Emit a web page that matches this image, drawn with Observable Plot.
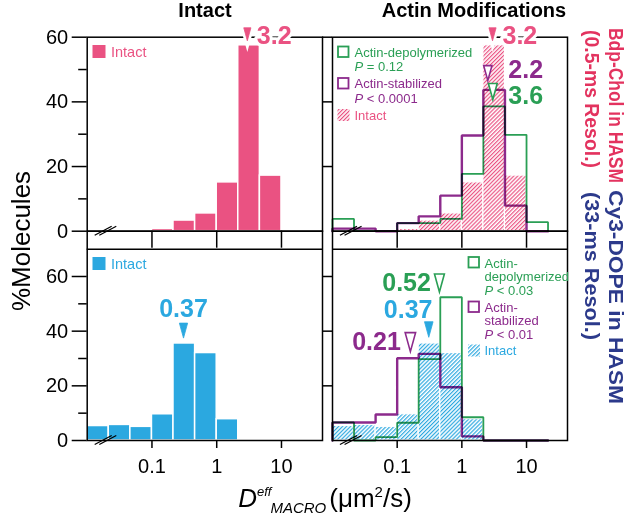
<!DOCTYPE html>
<html><head><meta charset="utf-8">
<script src="https://cdn.jsdelivr.net/npm/d3@7"></script>
<script src="https://cdn.jsdelivr.net/npm/@observablehq/plot@0.6"></script>
<style>
html,body{margin:0;padding:0;background:#fff;}
#wrap{position:relative;width:633px;height:517px;overflow:hidden;background:#fff;font-family:"Liberation Sans",Arial,sans-serif;}
#wrap svg{position:absolute;left:0;top:0;}
</style></head><body><div id="wrap"></div>
<script>
// ---------- data ----------
const binEdges = [0.01, 0.0215, 0.0464, 0.1, 0.215, 0.464, 1, 2.15, 4.64, 10, 21.5];
// Bdp-Chol in HASM (0.5-ms) : % molecules per bin
const bdpIntact = [0, 0, 0, 0.7, 3.3, 5.5, 15.1, 57.5, 17.2, 0];
const bdpDepoly = [3.8, 0, 0, 2.5, 2.5, 3.8, 17.7, 38.6, 29.8, 2.8];
const bdpStab   = [0.8, 0.8, 0, 2.5, 4.6, 11.0, 29.6, 43.7, 7.9, 0];
// Cy3-DOPE in HASM (33-ms)
const dopeIntact = [5.3, 5.7, 5.0, 9.6, 35.5, 32.0, 7.8, 0, 0, 0];
const dopeDepoly = [6.6, 0, 1.2, 6.5, 29.8, 52.4, 8.5, 0, 0, 0];
const dopeStab   = [6.6, 6.6, 9.5, 30.1, 31.7, 19.5, 1.5, 0, 0, 0];

const yTicksMajor = [0, 20, 40, 60];
const yTicksMinor = [10, 30, 50];
const yTicksRight = [20, 40, 60];
const xTicks = [0.1, 1, 10];
const xTickLabels = ["0.1", "1", "10"];
const axisBreakAt = 0.0195;

const PINK = "#EA5282", BLUE = "#2BA8E0", PURPLE = "#8C2A8C", GREEN = "#2A9F55";
const CRIMSON = "#E3335F", NAVY = "#2C3A8B";
const FONT = '"Liberation Sans", Arial, sans-serif';

// median annotations
const bdpIntactMarks = [
  {pos: 2.97, y: 60.9, label: "3.2", ly: 60.5, dx: 9.5, anchor: "start", color: PINK, open: false, r: 6.5, halo: true}];
const bdpActinMarks = [
  {pos: 2.98, y: 60.9, label: "3.2", ly: 60.5, dx: 10, anchor: "start", color: PINK, open: false, r: 6.5, halo: true},
  {pos: 2.52, y: 48.9, label: "2.2", ly: 49.9, dx: 20.5, anchor: "start", color: PURPLE, open: true, r: 7.5},
  {pos: 3.01, y: 43.2, label: "3.6", ly: 41.8, dx: 15.5, anchor: "start", color: GREEN, open: true, r: 8}];
const dopeIntactMarks = [
  {pos: 0.307, y: 40.2, label: "0.37", ly: 48.0, dx: 0, anchor: "middle", color: BLUE, open: false, r: 7.5}];
const dopeActinMarks = [
  {pos: 0.45, y: 57.6, label: "0.52", ly: 57.8, dx: -8.5, anchor: "end", color: GREEN, open: true, r: 9},
  {pos: 0.308, y: 40.6, label: "0.37", ly: 47.9, dx: 3.7, anchor: "end", color: BLUE, open: false, r: 7.8},
  {pos: 0.16, y: 36.0, label: "0.21", ly: 36.0, dx: -9.5, anchor: "end", color: PURPLE, open: true, r: 9.5}];

// ---------- helpers ----------
const rows = vals => vals.map((v, i) => ({lo: binEdges[i], hi: binEdges[i + 1], v})).filter(d => d.v > 0);
function stepPts(vals) {
  const pts = [{x: binEdges[0], y: 0}];
  vals.forEach((v, i) => pts.push({x: binEdges[i], y: v}));
  pts.push({x: binEdges[vals.length], y: 0});
  return pts;
}
const narrowTri = {
  draw(ctx, size) {
    const r = Math.sqrt(size / Math.PI), w = r * 0.55;
    ctx.moveTo(-w, -r); ctx.lineTo(w, -r); ctx.lineTo(0, r); ctx.closePath();
  }
};
function axisBreak(xv) {
  return (index, scales) => {
    const g = d3.create("svg:g").attr("stroke", "black").attr("stroke-width", 1.3);
    const cx = scales.x(xv), cy = scales.y(0);
    for (const o of [-2.3, 2.3])
      g.append("line").attr("x1", cx + o - 8.5).attr("y1", cy + 4.5).attr("x2", cx + o + 8.5).attr("y2", cy - 4.5);
    return g.node();
  };
}
function annoMarks(list) {
  const out = [];
  for (const a of list) {
    if (a.halo) out.push(Plot.dot([a], {x: "pos", y: "y", symbol: narrowTri, r: a.r, fill: "white", stroke: "white", strokeWidth: 6}));
    out.push(Plot.dot([a], {x: "pos", y: "y", symbol: narrowTri, r: a.r,
      fill: a.open ? "white" : a.color, stroke: a.color, strokeWidth: a.open ? 1.6 : 0.8}));
    out.push(Plot.text([a], {x: "pos", y: "ly", text: "label", dx: a.dx, textAnchor: a.anchor,
      fill: a.color, fontSize: 25, fontWeight: "bold", lineAnchor: "middle",
      stroke: a.halo ? "white" : null, strokeWidth: a.halo ? 6 : null}));
  }
  return out;
}
const XDOM = [0.01, 43];
function base(opts) {
  return Object.assign({
    width: 633, height: 517,
    style: {background: "transparent", overflow: "visible", fontFamily: FONT},
    x: {type: "log", domain: XDOM},
  }, opts);
}

// ---------- pattern defs ----------
const wrap = document.getElementById("wrap");
const defs = d3.create("svg").attr("width", 0).attr("height", 0);
const dd = defs.append("defs");
for (const [id, col] of [["hatchPink", PINK], ["hatchBlue", BLUE]]) {
  dd.append("pattern").attr("id", id).attr("patternUnits", "userSpaceOnUse")
    .attr("width", 2.8).attr("height", 10).attr("patternTransform", "rotate(45)")
    .append("rect").attr("width", 1.2).attr("height", 10).attr("fill", col);
}
wrap.appendChild(defs.node());

// ---------- top-left: Bdp-Chol intact ----------
const tl = Plot.plot(base({
  marginLeft: 86.7, marginRight: 311, marginTop: 36.7, marginBottom: 286.3,
  y: {domain: [0, 60]},
  marks: [
    Plot.rectY(rows(bdpIntact), {x1: "lo", x2: "hi", y: "v", fill: PINK, stroke: "white", strokeWidth: 1.5}),
    Plot.frame({stroke: "black", strokeWidth: 1.5}),
    Plot.axisY({ticks: yTicksMajor, tickSize: 15, tickPadding: 4, fontSize: 20, strokeWidth: 1.5, label: null}),
    Plot.axisY({ticks: yTicksMinor, tickSize: 8.5, tickFormat: () => "", strokeWidth: 1.5, label: null}),
    Plot.axisX({ticks: xTicks, tickSize: 17, tickFormat: () => "", strokeWidth: 1.5, label: null}),
    axisBreak(axisBreakAt),
    ...annoMarks(bdpIntactMarks)
  ]
}));

// ---------- top-right: Bdp-Chol actin modifications ----------
const tr = Plot.plot(base({
  marginLeft: 332, marginRight: 66, marginTop: 36.7, marginBottom: 286.3,
  y: {domain: [0, 60]},
  marks: [
    Plot.rectY(rows(bdpIntact), {x1: "lo", x2: "hi", y: "v", fill: "url(#hatchPink)", stroke: "white", strokeWidth: 1.2}),
    Plot.line(stepPts(bdpStab), {x: "x", y: "y", curve: "step-after", stroke: PURPLE, strokeWidth: 2.4, strokeLinejoin: "miter", mixBlendMode: "multiply"}),
    Plot.line(stepPts(bdpDepoly), {x: "x", y: "y", curve: "step-after", stroke: GREEN, strokeWidth: 1.8, strokeLinejoin: "miter", mixBlendMode: "multiply"}),
    Plot.frame({stroke: "black", strokeWidth: 1.5}),
    Plot.axisY({ticks: yTicksRight, tickSize: 10, tickFormat: () => "", strokeWidth: 1.5, label: null}),
    Plot.axisX({ticks: xTicks, tickSize: 17, tickFormat: () => "", strokeWidth: 1.5, label: null}),
    axisBreak(axisBreakAt),
    ...annoMarks(bdpActinMarks)
  ]
}));

// ---------- bottom-left: Cy3-DOPE intact ----------
const bl = Plot.plot(base({
  marginLeft: 86.7, marginRight: 311, marginTop: 230.7, marginBottom: 77,
  y: {domain: [0, 76.57]},
  marks: [
    Plot.rectY(rows(dopeIntact), {x1: "lo", x2: "hi", y: "v", fill: BLUE, stroke: "white", strokeWidth: 1.5}),
    Plot.frame({stroke: "black", strokeWidth: 1.5}),
    Plot.ruleY([70], {stroke: "black", strokeWidth: 1.5}),
    Plot.axisY({ticks: yTicksMajor, tickSize: 15, tickPadding: 4, fontSize: 20, strokeWidth: 1.5, label: null}),
    Plot.axisY({ticks: yTicksMinor, tickSize: 8.5, tickFormat: () => "", strokeWidth: 1.5, label: null}),
    Plot.axisX({ticks: xTicks, tickSize: 8, tickPadding: 10, fontSize: 20, strokeWidth: 1.5, label: null,
      tickFormat: d => xTickLabels[xTicks.indexOf(d)]}),
    axisBreak(axisBreakAt),
    ...annoMarks(dopeIntactMarks)
  ]
}));

// ---------- bottom-right: Cy3-DOPE actin modifications ----------
const br = Plot.plot(base({
  marginLeft: 332, marginRight: 66, marginTop: 230.7, marginBottom: 77,
  y: {domain: [0, 76.57]},
  marks: [
    Plot.rectY(rows(dopeIntact), {x1: "lo", x2: "hi", y: "v", fill: "url(#hatchBlue)", stroke: "white", strokeWidth: 1.2}),
    Plot.line(stepPts(dopeStab), {x: "x", y: "y", curve: "step-after", stroke: PURPLE, strokeWidth: 2.4, strokeLinejoin: "miter", mixBlendMode: "multiply"}),
    Plot.line(stepPts(dopeDepoly), {x: "x", y: "y", curve: "step-after", stroke: GREEN, strokeWidth: 1.8, strokeLinejoin: "miter", mixBlendMode: "multiply"}),
    Plot.frame({stroke: "black", strokeWidth: 1.5}),
    Plot.ruleY([70], {stroke: "black", strokeWidth: 1.5}),
    Plot.axisY({ticks: yTicksRight, tickSize: 10, tickFormat: () => "", strokeWidth: 1.5, label: null}),
    Plot.axisX({ticks: xTicks, tickSize: 8, tickPadding: 10, fontSize: 20, strokeWidth: 1.5, label: null,
      tickFormat: d => xTickLabels[xTicks.indexOf(d)]}),
    axisBreak(axisBreakAt),
    ...annoMarks(dopeActinMarks)
  ]
}));

[tl, tr, bl, br].forEach(p => wrap.appendChild(p));

// ---------- overlay text: titles, legends, side labels ----------
const ov = d3.create("svg").attr("width", 633).attr("height", 517).style("font-family", FONT).style("overflow", "visible");
const T = (x, y, s, o = {}) => {
  const t = ov.append("text").attr("x", x).attr("y", y).text(s)
    .attr("font-size", o.size || 13).attr("fill", o.fill || "black")
    .attr("text-anchor", o.anchor || "start").attr("font-weight", o.weight || "normal");
  if (o.len) t.attr("textLength", o.len).attr("lengthAdjust", "spacingAndGlyphs");
  return t;
};
// column titles
T(205, 17, "Intact", {size: 20, weight: "bold", anchor: "middle"});
T(474, 17, "Actin Modifications", {size: 20, weight: "bold", anchor: "middle"});
// y title
ov.append("text").attr("transform", "translate(30,241) rotate(-90)").attr("text-anchor", "middle")
  .attr("font-size", 26).text("%Molecules");
// x title
const xt = ov.append("text").attr("x", 325).attr("y", 507).attr("text-anchor", "middle").attr("font-size", 26);
xt.append("tspan").attr("font-style", "italic").text("D");
xt.append("tspan").attr("font-style", "italic").attr("font-size", 13).attr("dy", -11).text("eff");
xt.append("tspan").attr("font-style", "italic").attr("font-size", 15).attr("dy", 17).attr("dx", -1).text("MACRO");
xt.append("tspan").attr("dy", -6).attr("dx", 3).text("(μm");
xt.append("tspan").attr("font-size", 15).attr("dy", -10).text("2");
xt.append("tspan").attr("dy", 10).text("/s)");
// side labels
const side = (x, y, s, col, len) => ov.append("text").attr("transform", `translate(${x},${y}) rotate(90)`)
  .attr("font-size", 20).attr("font-weight", "bold").attr("fill", col)
  .attr("textLength", len).attr("lengthAdjust", "spacingAndGlyphs").text(s);
side(609, 28, "Bdp-Chol in HASM", CRIMSON, 155);
side(585, 30, "(0.5-ms Resol.)", CRIMSON, 138);
side(609, 190, "Cy3-DOPE in HASM", NAVY, 214);
side(585, 192, "(33-ms Resol.)", NAVY, 148);

// legends
const sq = (x, y, s, o) => ov.append("rect").attr("x", x).attr("y", y).attr("width", s).attr("height", s)
  .attr("fill", o.fill || "none").attr("stroke", o.stroke || "none").attr("stroke-width", o.sw || 0);
const pLine = (x, y, rest, col, size) => {
  const t = ov.append("text").attr("x", x).attr("y", y).attr("font-size", size).attr("fill", col);
  t.append("tspan").attr("font-style", "italic").text("P");
  t.append("tspan").text(rest);
};
// TL
sq(92.5, 45, 13, {fill: PINK});
T(111, 56.5, "Intact", {size: 14.5, fill: PINK});
// BL
sq(92.5, 257, 13, {fill: BLUE});
T(111, 269, "Intact", {size: 14.5, fill: BLUE});
// TR
sq(338, 46.5, 10.5, {stroke: GREEN, sw: 1.8});
T(354.5, 56.5, "Actin-depolymerized", {size: 13, fill: GREEN});
pLine(354.5, 70.5, " = 0.12", GREEN, 13);
sq(338, 78, 10.5, {stroke: PURPLE, sw: 1.8});
T(354.5, 88, "Actin-stabilized", {size: 13, fill: PURPLE});
pLine(354.5, 103, " < 0.0001", PURPLE, 13);
sq(337.5, 109, 12, {fill: "url(#hatchPink)"});
T(354.5, 119.5, "Intact", {size: 13, fill: PINK});
// BR
sq(468.5, 257, 10.5, {stroke: GREEN, sw: 1.8});
T(484.5, 267.5, "Actin-", {size: 13, fill: GREEN});
T(484.5, 281, "depolymerized", {size: 13, fill: GREEN});
pLine(484.5, 294.5, " < 0.03", GREEN, 13);
sq(468.5, 301.5, 10.5, {stroke: PURPLE, sw: 1.8});
T(484.5, 311.5, "Actin-", {size: 13, fill: PURPLE});
T(484.5, 325, "stabilized", {size: 13, fill: PURPLE});
pLine(484.5, 338.5, " < 0.01", PURPLE, 13);
sq(468, 344.5, 12, {fill: "url(#hatchBlue)"});
T(484.5, 355, "Intact", {size: 13, fill: BLUE});

wrap.appendChild(ov.node());
</script></body></html>
